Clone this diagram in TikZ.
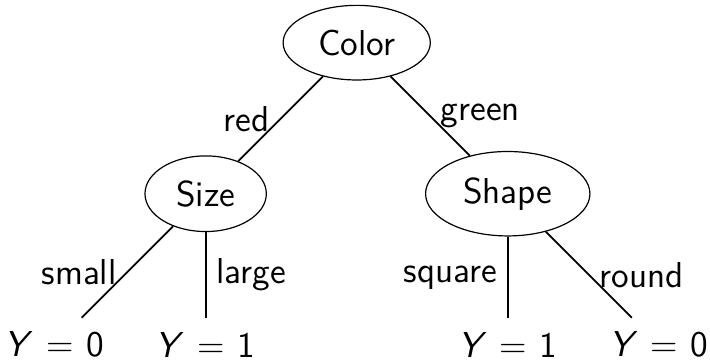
\documentclass[tikz,border=0pt]{standalone}
\usetikzlibrary{shapes.geometric, positioning}
\tikzset{
  feature/.style={
    draw,
    ellipse,
    thin,
    inner sep=4.5pt,
  },
  outcome/.style={
    inner sep=4.5pt,
  },
  branch/.style={
    semithick
  }
}
\newcommand{\yval}[1]{\textit{Y}\hspace{0.36em}=\hspace{0.36em}#1}

\begin{document}
\begin{tikzpicture}[on grid, font=\large\sffamily]
\useasboundingbox (-4.18,-3.74) rectangle (4.14,0.50);

% --- Racine ---
\node[feature] (color) at (0,0) {Color};

% --- Premier niveau ---
\node[feature, below left=1.77cm and 1.77cm of color]  (size)  {Size};
\node[feature, below right=1.77cm and 1.77cm of color] (shape) {Shape};

% --- Feuilles ---
\node[outcome, below left=1.77cm and 1.77cm of size]   (y1) {\yval{0}};
\node[outcome, below=1.77cm of size]                   (y2) {\yval{1}};
\node[outcome, below=1.77cm of shape]                  (y3) {\yval{1}};
\node[outcome, below right=1.77cm and 1.77cm of shape] (y4) {\yval{0}};

% --- Branches ---
\draw[branch] (color) -- (size)  node[midway, left]  {red};
\draw[branch] (color) -- (shape) node[midway, right] {green};
\draw[branch] (size)  -- (y1)    node[midway, left]  {small};
\draw[branch] (size)  -- (y2)    node[midway, right] {large};
\draw[branch] (shape) -- (y3)    node[midway, left]  {square};
\draw[branch] (shape) -- (y4)    node[midway, right] {round};

\end{tikzpicture}
\end{document}
